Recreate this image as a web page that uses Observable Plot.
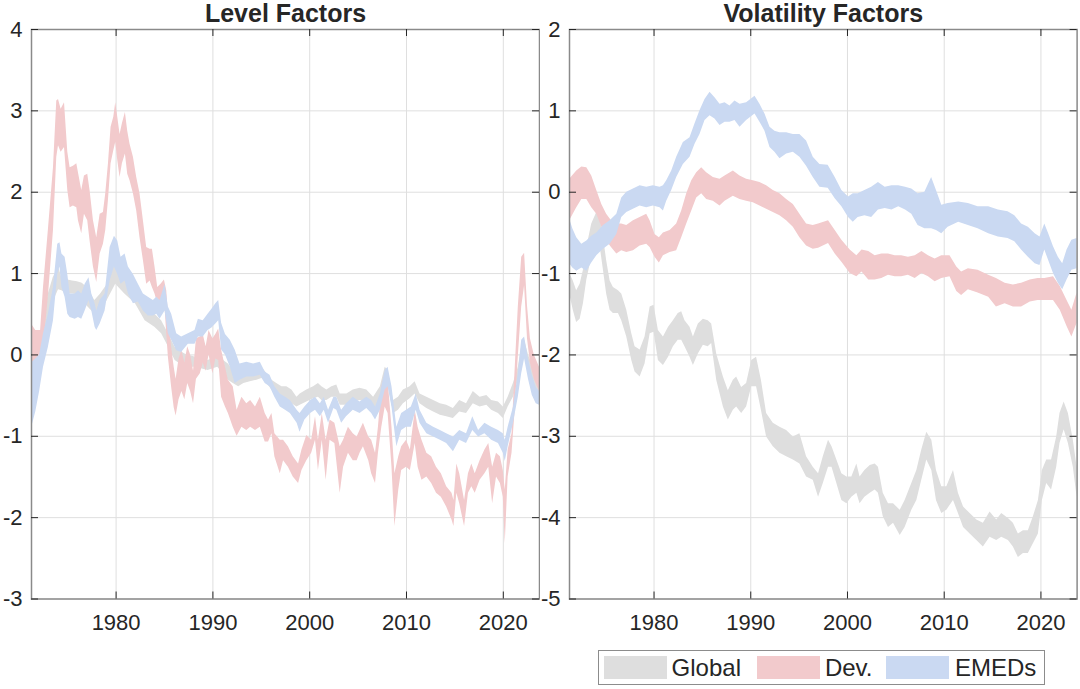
<!DOCTYPE html>
<html><head><meta charset="utf-8">
<script src="https://cdn.jsdelivr.net/npm/d3@7"></script>
<script src="https://cdn.jsdelivr.net/npm/@observablehq/plot@0.6"></script>
<style>
html,body{margin:0;padding:0;background:#fff;}
#chart{position:relative;width:1080px;height:689px;font-family:"Liberation Sans",Arial,Helvetica,sans-serif;}
.panel{position:absolute;top:0;}
#legend{position:absolute;left:598px;top:650px;width:447px;height:35px;border:1.5px solid #8c8c8c;box-sizing:border-box;background:#fff;}
.sw{position:absolute;top:4.5px;width:63px;height:23px;}
.lt{position:absolute;top:1px;line-height:32px;font-size:24px;color:#262626;white-space:nowrap;}
</style></head><body><div id="chart"></div><script>
// ---- data: [year, lower, upper] ----
const seriesNames = ["Global", "Dev.", "EMEDs"];
const seriesColors = ["#dedede", "#f2cacc", "#cad9f2"];
const xTicks = [1980, 1990, 2000, 2010, 2020];
const xDomain = [1971.26, 2023.74];
const levelTicks = [-3, -2, -1, 0, 1, 2, 3, 4];
const volTicks = [-5, -4, -3, -2, -1, 0, 1, 2];

const levelGlobal = [
[1971.26,-0.50,-0.10],[1971.8,-0.30,0.05],[1972.4,0.05,0.35],[1973.0,0.45,0.75],[1973.5,0.65,0.95],
[1974.05,0.80,1.08],[1974.4,0.79,0.95],[1975.0,0.75,0.92],[1975.5,0.75,0.91],[1976.0,0.74,0.90],
[1976.5,0.70,0.88],[1977.0,0.60,0.83],[1977.8,0.50,0.67],[1978.4,0.55,0.75],[1979.0,0.65,0.85],
[1979.96,0.87,1.14],[1980.9,0.75,0.95],[1982.0,0.63,0.79],[1983.0,0.42,0.58],[1984.0,0.34,0.50],
[1984.7,0.26,0.42],[1985.4,0.10,0.26],[1986.1,-0.07,0.09],[1987.1,-0.15,0.01],[1988.2,-0.15,-0.03],
[1989.5,-0.19,-0.07],[1990.5,-0.15,-0.02],[1991.1,-0.23,-0.07],[1991.6,-0.31,-0.11],[1992.1,-0.35,-0.19],
[1992.66,-0.39,-0.27],[1993.2,-0.35,-0.23],[1993.86,-0.33,-0.23],[1994.55,-0.31,-0.19],[1995.06,-0.29,-0.15],
[1995.58,-0.35,-0.23],[1996.1,-0.43,-0.31],[1996.6,-0.50,-0.35],[1997.13,-0.54,-0.39],[1997.64,-0.56,-0.39],
[1998.16,-0.60,-0.43],[1998.68,-0.64,-0.52],[1999.02,-0.62,-0.48],[1999.7,-0.58,-0.43],[2000.4,-0.54,-0.39],
[2000.9,-0.52,-0.35],[2001.26,-0.56,-0.39],[2001.77,-0.56,-0.43],[2002.29,-0.52,-0.39],[2002.8,-0.52,-0.37],
[2003.15,-0.62,-0.48],[2003.84,-0.62,-0.48],[2004.5,-0.58,-0.43],[2005.2,-0.56,-0.41],[2005.9,-0.58,-0.43],
[2006.6,-0.68,-0.52],[2007.3,-0.56,-0.39],[2007.8,-0.35,-0.15],[2008.1,-0.35,-0.19],[2008.65,-0.72,-0.56],
[2009.17,-0.68,-0.52],[2009.68,-0.60,-0.43],[2010.37,-0.54,-0.39],[2010.89,-0.48,-0.33],[2011.4,-0.60,-0.48],
[2012.1,-0.66,-0.52],[2012.8,-0.70,-0.56],[2013.5,-0.74,-0.60],[2014.15,-0.76,-0.62],[2014.84,-0.78,-0.66],
[2015.5,-0.70,-0.56],[2016.2,-0.72,-0.60],[2016.9,-0.60,-0.45],[2017.6,-0.64,-0.52],[2018.3,-0.62,-0.50],
[2018.8,-0.68,-0.56],[2019.5,-0.72,-0.58],[2020.0,-0.78,-0.64],[2020.5,-0.64,-0.52],[2021.04,-0.52,-0.35],
[2021.55,-0.31,-0.15],[2021.9,-0.05,0.10],[2022.2,0.00,0.18],[2022.6,-0.20,0.00],[2023.1,-0.40,-0.15],
[2023.74,-0.50,-0.30]
];

const levelDev = [
[1971.26,-0.10,0.38],[1971.7,-0.12,0.30],[1972.2,-0.08,0.30],[1972.5,0.09,0.83],[1973.0,0.71,1.53],
[1973.53,1.53,2.30],[1973.87,2.43,3.12],[1974.05,2.57,3.14],[1974.32,2.49,3.02],[1974.67,2.55,3.10],
[1975.01,2.02,2.49],[1975.25,1.81,2.30],[1975.59,1.83,2.32],[1975.94,1.81,2.35],[1976.11,1.65,2.24],
[1976.45,1.49,2.02],[1976.73,1.73,2.20],[1977.07,1.65,2.22],[1977.31,1.40,2.02],[1977.66,1.08,1.65],
[1978.0,0.89,1.44],[1978.35,1.24,1.73],[1978.69,1.36,1.75],[1978.93,1.53,1.98],[1979.21,1.90,2.35],
[1979.48,2.35,2.80],[1979.76,2.51,2.92],[1979.96,2.61,3.10],[1980.17,2.39,2.92],[1980.41,2.18,2.71],
[1980.65,2.35,2.84],[1980.96,2.47,2.98],[1981.2,2.22,2.75],[1981.44,2.14,2.59],[1981.79,1.98,2.43],
[1982.13,1.77,2.18],[1982.47,1.44,1.98],[1982.82,1.16,1.65],[1983.16,0.87,1.32],[1983.51,0.91,1.30],
[1983.75,0.83,1.30],[1984.02,0.75,1.08],[1984.3,0.63,0.83],[1984.64,0.67,0.87],[1984.99,0.71,0.92],
[1985.23,0.26,0.79],[1985.4,-0.03,0.50],[1985.74,-0.40,0.09],[1986.0,-0.65,-0.15],[1986.2,-0.75,-0.30],
[1986.5,-0.55,-0.05],[1986.8,-0.45,0.05],[1987.1,-0.55,-0.10],[1987.4,-0.35,0.10],[1987.7,-0.45,0.00],
[1988.0,-0.60,-0.20],[1988.3,-0.30,0.20],[1988.7,-0.23,0.22],[1989.0,-0.10,0.25],[1989.3,-0.20,0.10],
[1989.6,0.00,0.30],[1990.0,-0.23,0.20],[1990.3,-0.05,0.25],[1990.6,-0.07,0.32],[1990.9,-0.52,0.06],
[1991.3,-0.64,-0.15],[1991.6,-0.72,-0.31],[1992.1,-0.89,-0.39],[1992.5,-1.00,-0.68],[1993.0,-0.89,-0.52],
[1993.5,-0.93,-0.60],[1993.9,-0.89,-0.56],[1994.4,-0.93,-0.64],[1994.9,-0.89,-0.52],[1995.4,-1.07,-0.72],
[1995.75,-1.07,-0.80],[1996.1,-0.97,-0.72],[1996.4,-1.25,-0.97],[1996.96,-1.46,-1.05],[1997.3,-1.30,-1.05],
[1997.8,-1.38,-1.13],[1998.3,-1.50,-1.25],[1998.85,-1.58,-1.34],[1999.2,-1.42,-1.17],[1999.7,-1.30,-0.99],
[2000.2,-1.21,-1.05],[2000.6,-1.05,-0.76],[2000.9,-1.42,-1.05],[2001.3,-1.05,-0.72],[2001.7,-1.54,-1.05],
[2002.1,-1.05,-0.80],[2002.6,-1.09,-0.84],[2003.15,-1.70,-1.13],[2003.5,-1.38,-1.05],[2004.0,-1.21,-0.89],
[2004.5,-1.30,-0.97],[2004.9,-1.30,-1.01],[2005.2,-1.21,-0.93],[2005.55,-1.13,-0.84],[2006.1,-1.30,-1.01],
[2006.4,-1.46,-1.05],[2006.8,-1.58,-1.21],[2007.1,-1.21,-0.89],[2007.45,-0.89,-0.39],[2007.8,-0.64,-0.23],
[2008.1,-0.72,-0.31],[2008.5,-1.38,-0.89],[2008.8,-2.11,-1.46],[2009.2,-1.66,-1.25],[2009.5,-1.42,-1.13],
[2010.0,-1.38,-1.05],[2010.4,-1.42,-1.17],[2010.9,-1.09,-0.68],[2011.2,-1.38,-0.89],[2011.6,-1.54,-1.05],
[2012.1,-1.50,-1.21],[2012.6,-1.58,-1.25],[2013.1,-1.70,-1.38],[2013.6,-1.75,-1.46],[2014.15,-1.87,-1.62],
[2014.7,-2.03,-1.70],[2014.9,-2.11,-1.79],[2015.2,-1.70,-1.34],[2015.5,-1.83,-1.46],[2016.0,-2.11,-1.79],
[2016.4,-1.70,-1.46],[2016.75,-1.62,-1.34],[2017.1,-1.70,-1.46],[2017.6,-1.54,-1.30],[2018.1,-1.46,-1.17],
[2018.5,-1.38,-1.09],[2018.9,-1.83,-1.38],[2019.3,-1.50,-1.21],[2019.7,-1.58,-1.25],[2020.0,-1.75,-1.42],
[2020.2,-2.32,-1.66],[2020.5,-1.50,-1.17],[2020.9,-1.21,-0.97],[2021.2,-0.72,-0.23],[2021.55,-0.02,0.59],
[2021.9,0.59,1.20],[2022.2,0.85,1.25],[2022.5,0.20,0.60],[2022.8,-0.10,0.20],[2023.2,-0.30,0.00],
[2023.74,-0.45,-0.15]
];

const levelEMED = [
[1971.26,-0.90,-0.10],[1971.7,-0.70,-0.05],[1972.1,-0.45,0.00],[1972.5,-0.15,0.26],[1973.0,0.09,0.50],
[1973.53,0.42,0.83],[1973.97,0.99,1.36],[1974.2,1.08,1.38],[1974.4,0.83,1.24],[1974.73,0.71,1.20],
[1975.01,0.50,0.99],[1975.25,0.46,0.75],[1975.77,0.44,0.75],[1976.11,0.46,0.79],[1976.45,0.44,0.75],
[1976.8,0.54,0.87],[1977.2,0.67,0.95],[1977.49,0.54,0.75],[1977.83,0.34,0.63],[1978.0,0.30,0.54],
[1978.35,0.38,0.67],[1978.86,0.54,0.75],[1979.38,0.91,1.32],[1979.83,1.08,1.46],[1980.17,0.99,1.40],
[1980.51,0.87,1.20],[1980.93,0.91,1.24],[1981.27,0.75,1.08],[1981.79,0.63,0.99],[1982.3,0.65,0.87],
[1982.82,0.54,0.75],[1983.33,0.48,0.71],[1983.85,0.48,0.67],[1984.2,0.50,0.71],[1984.54,0.44,0.67],
[1985.06,0.54,0.87],[1985.4,0.26,0.59],[1985.74,0.18,0.50],[1986.26,0.05,0.26],[1986.77,0.03,0.22],
[1987.46,0.13,0.26],[1988.15,0.13,0.30],[1988.5,0.22,0.44],[1989.0,0.22,0.42],[1989.5,0.30,0.50],
[1989.9,0.33,0.56],[1990.3,0.38,0.63],[1990.6,0.42,0.67],[1990.9,0.06,0.39],[1991.3,0.00,0.25],
[1991.8,-0.15,0.18],[1992.3,-0.35,0.06],[1992.8,-0.31,-0.11],[1993.5,-0.27,-0.09],[1994.2,-0.27,-0.11],
[1994.9,-0.25,-0.09],[1995.4,-0.35,-0.21],[1995.9,-0.39,-0.25],[1996.4,-0.52,-0.39],[1996.96,-0.64,-0.48],
[1997.5,-0.68,-0.52],[1998.0,-0.72,-0.56],[1998.7,-0.84,-0.68],[1999.0,-0.95,-0.72],[1999.5,-0.80,-0.64],
[2000.1,-0.72,-0.56],[2000.6,-0.68,-0.52],[2001.1,-0.76,-0.60],[2001.5,-0.68,-0.52],[2001.95,-0.84,-0.68],
[2002.5,-0.66,-0.52],[2002.8,-0.68,-0.52],[2003.3,-0.84,-0.68],[2003.8,-0.76,-0.60],[2004.5,-0.68,-0.52],
[2005.2,-0.72,-0.58],[2005.9,-0.66,-0.52],[2006.4,-0.72,-0.56],[2006.8,-0.80,-0.64],[2007.3,-0.68,-0.48],
[2007.8,-0.43,-0.19],[2008.1,-0.39,-0.15],[2008.5,-0.64,-0.39],[2009.0,-1.13,-0.89],[2009.5,-0.93,-0.72],
[2010.0,-0.89,-0.68],[2010.5,-0.89,-0.64],[2011.0,-0.68,-0.48],[2011.4,-0.84,-0.68],[2012.1,-0.97,-0.84],
[2012.8,-1.01,-0.89],[2013.5,-1.05,-0.93],[2014.15,-1.09,-0.97],[2014.85,-1.19,-1.01],[2015.5,-1.05,-0.93],
[2016.2,-1.09,-0.97],[2016.85,-0.93,-0.76],[2017.45,-1.01,-0.93],[2018.1,-0.97,-0.84],[2018.8,-1.05,-0.89],
[2019.5,-1.09,-0.93],[2020.0,-1.21,-0.97],[2020.2,-1.31,-1.05],[2020.5,-1.13,-0.89],[2021.05,-0.84,-0.64],
[2021.55,-0.52,-0.23],[2021.9,-0.23,0.18],[2022.2,-0.05,0.22],[2022.6,-0.30,-0.05],[2023.0,-0.50,-0.25],
[2023.4,-0.60,-0.40],[2023.74,-0.62,-0.45]
];

const volGlobal = [
[1971.28,-1.25,-1.00],[1971.65,-1.45,-1.09],[1972.0,-1.60,-1.21],[1972.36,-1.56,-1.13],[1972.7,-1.37,-0.96],
[1973.05,-1.08,-0.68],[1973.56,-0.80,-0.39],[1974.08,-0.51,-0.25],[1974.42,-0.66,-0.31],[1974.77,-0.96,-0.55],
[1975.1,-1.25,-0.84],[1975.46,-1.45,-1.09],[1975.8,-1.49,-1.17],[1976.32,-1.49,-1.21],[1976.66,-1.58,-1.25],
[1977.18,-1.78,-1.45],[1977.7,-2.07,-1.74],[1978.04,-2.21,-1.90],[1978.56,-2.27,-1.94],[1979.07,-2.11,-1.78],
[1979.6,-1.74,-1.41],[1980.0,-1.72,-1.39],[1980.45,-2.07,-1.70],[1980.97,-2.13,-1.78],[1981.5,-2.03,-1.66],
[1982.0,-1.90,-1.58],[1982.5,-1.82,-1.49],[1982.86,-1.82,-1.47],[1983.2,-1.90,-1.58],[1983.72,-2.03,-1.66],
[1984.07,-2.13,-1.78],[1984.58,-1.99,-1.62],[1985.1,-1.88,-1.56],[1985.6,-1.90,-1.58],[1985.96,-1.86,-1.62],
[1986.48,-2.31,-1.99],[1987.17,-2.64,-2.27],[1987.68,-2.80,-2.44],[1988.2,-2.68,-2.31],[1988.54,-2.64,-2.27],
[1989.06,-2.72,-2.40],[1989.57,-2.64,-2.35],[1990.1,-2.39,-2.07],[1990.6,-2.39,-2.03],[1991.1,-2.68,-2.31],
[1991.64,-3.01,-2.72],[1992.33,-3.13,-2.84],[1993.02,-3.21,-2.89],[1993.71,-3.25,-2.93],[1994.4,-3.29,-3.01],
[1995.08,-3.34,-2.97],[1995.77,-3.50,-3.25],[1996.46,-3.54,-3.38],[1997.01,-3.75,-3.46],[1997.5,-3.58,-3.25],
[1998.04,-3.38,-3.05],[1998.4,-3.38,-3.13],[1998.9,-3.58,-3.29],[1999.42,-3.79,-3.46],[1999.94,-3.83,-3.50],
[2000.45,-3.75,-3.50],[2000.97,-3.70,-3.34],[2001.3,-3.83,-3.50],[2001.8,-3.75,-3.42],[2002.35,-3.70,-3.36],
[2002.86,-3.66,-3.34],[2003.2,-3.70,-3.38],[2003.7,-3.99,-3.70],[2004.24,-4.12,-3.83],[2004.76,-4.07,-3.83],
[2005.45,-4.22,-3.91],[2005.96,-4.12,-3.79],[2006.65,-3.91,-3.58],[2007.17,-3.79,-3.42],[2007.68,-3.54,-3.17],
[2008.2,-3.29,-2.95],[2008.72,-3.42,-3.05],[2009.2,-3.79,-3.42],[2009.75,-3.95,-3.62],[2010.27,-3.91,-3.62],
[2010.96,-3.79,-3.42],[2011.47,-3.95,-3.70],[2012.0,-4.12,-3.87],[2012.68,-4.20,-3.95],[2013.37,-4.28,-4.03],
[2014.05,-4.36,-4.07],[2014.74,-4.24,-3.93],[2015.43,-4.28,-4.03],[2015.95,-4.24,-3.95],[2016.64,-4.28,-4.01],
[2017.15,-4.36,-4.07],[2017.67,-4.49,-4.20],[2018.19,-4.44,-4.16],[2018.7,-4.44,-4.16],[2019.22,-4.32,-3.99],
[2019.74,-4.20,-3.79],[2020.15,-3.79,-3.42],[2020.6,-3.58,-3.29],[2021.1,-3.66,-3.29],[2021.63,-3.38,-3.01],
[2021.97,-3.09,-2.72],[2022.4,-2.92,-2.58],[2022.84,-3.09,-2.72],[2023.35,-3.38,-3.05],[2023.74,-3.75,-3.38]
];

const volDev = [
[1971.28,-0.35,0.16],[1972.01,-0.19,0.26],[1972.53,-0.09,0.31],[1973.05,-0.09,0.30],[1973.56,-0.19,0.20],
[1974.08,-0.27,0.02],[1974.6,-0.43,-0.15],[1975.1,-0.60,-0.27],[1975.6,-0.68,-0.35],[1976.15,-0.76,-0.39],
[1976.66,-0.72,-0.39],[1977.18,-0.74,-0.41],[1977.87,-0.72,-0.35],[1978.56,-0.66,-0.31],[1979.24,-0.64,-0.27],
[1979.59,-0.68,-0.35],[1980.1,-0.80,-0.52],[1980.55,-0.87,-0.56],[1980.97,-0.78,-0.50],[1981.66,-0.74,-0.47],
[1982.34,-0.72,-0.39],[1982.86,-0.56,-0.23],[1983.38,-0.39,-0.02],[1983.9,-0.23,0.14],[1984.41,-0.07,0.24],
[1984.93,-0.02,0.30],[1985.44,-0.09,0.24],[1986.13,-0.11,0.18],[1986.82,-0.17,0.16],[1987.34,-0.11,0.20],
[1988.2,-0.05,0.26],[1988.89,-0.09,0.20],[1989.57,-0.11,0.16],[1990.26,-0.13,0.14],[1990.95,-0.17,0.12],
[1991.64,-0.21,0.08],[1992.33,-0.25,0.02],[1993.02,-0.29,-0.02],[1993.71,-0.35,-0.09],[1994.4,-0.43,-0.15],
[1995.08,-0.56,-0.27],[1995.77,-0.66,-0.39],[1996.46,-0.70,-0.41],[1997.01,-0.69,-0.39],[1998.04,-0.63,-0.35],
[1998.73,-0.76,-0.47],[1999.42,-0.86,-0.59],[2000.28,-1.00,-0.71],[2000.97,-1.04,-0.78],[2001.5,-0.98,-0.71],
[2002.2,-1.08,-0.73],[2002.86,-1.08,-0.78],[2003.55,-1.06,-0.76],[2004.24,-1.02,-0.76],[2004.93,-1.04,-0.78],
[2005.6,-1.04,-0.78],[2006.3,-1.02,-0.80],[2007.0,-1.06,-0.78],[2007.7,-1.00,-0.73],[2008.37,-1.04,-0.78],
[2009.06,-1.10,-0.82],[2009.75,-1.06,-0.78],[2010.6,-1.04,-0.78],[2011.3,-1.22,-0.92],[2011.8,-1.27,-0.98],
[2012.5,-1.20,-0.94],[2013.5,-1.24,-0.96],[2014.6,-1.29,-1.02],[2015.4,-1.41,-1.06],[2016.3,-1.37,-1.12],
[2017.15,-1.41,-1.14],[2018.0,-1.41,-1.12],[2018.9,-1.35,-1.08],[2019.7,-1.33,-1.06],[2020.4,-1.33,-1.06],
[2021.3,-1.33,-1.04],[2022.0,-1.45,-1.16],[2022.7,-1.65,-1.33],[2023.2,-1.78,-1.45],[2023.74,-1.61,-1.24]
];

const volEMED = [
[1971.28,-0.88,-0.33],[1971.6,-0.93,-0.45],[1972.01,-0.97,-0.56],[1972.53,-0.93,-0.64],[1973.05,-0.97,-0.60],
[1973.56,-0.87,-0.54],[1974.08,-0.78,-0.50],[1974.77,-0.70,-0.41],[1975.46,-0.64,-0.35],[1976.15,-0.52,-0.27],
[1976.66,-0.31,-0.07],[1977.18,-0.25,0.00],[1977.87,-0.21,0.04],[1978.56,-0.17,0.08],[1979.24,-0.19,0.06],
[1979.93,-0.17,0.08],[1980.62,-0.19,0.06],[1980.97,-0.23,0.08],[1981.31,-0.11,0.14],[1981.83,0.02,0.26],
[1982.34,0.18,0.43],[1983.03,0.34,0.61],[1983.72,0.43,0.67],[1984.24,0.59,0.84],[1984.75,0.71,1.00],
[1985.27,0.88,1.14],[1985.79,0.94,1.23],[1986.3,0.90,1.16],[1986.82,0.82,1.08],[1987.34,0.86,1.10],
[1987.85,0.86,1.06],[1988.37,0.88,1.12],[1988.89,0.80,1.08],[1989.57,0.88,1.10],[1990.44,0.96,1.18],
[1990.95,0.86,1.08],[1991.47,0.75,0.96],[1991.99,0.55,0.80],[1992.5,0.49,0.75],[1993.02,0.41,0.73],
[1993.71,0.47,0.73],[1994.4,0.49,0.71],[1995.08,0.43,0.71],[1995.77,0.32,0.63],[1996.46,0.18,0.43],
[1997.15,0.06,0.34],[1998.0,0.05,0.33],[1998.73,-0.08,0.18],[1999.42,-0.18,0.02],[2000.11,-0.31,-0.06],
[2000.6,-0.37,-0.02],[2001.1,-0.31,-0.02],[2001.8,-0.29,0.02],[2002.5,-0.31,0.06],[2003.2,-0.22,0.12],
[2003.9,-0.20,0.06],[2004.6,-0.22,0.08],[2005.3,-0.18,0.08],[2006.0,-0.22,0.06],[2006.65,-0.27,0.04],
[2007.3,-0.41,-0.02],[2008.0,-0.45,0.00],[2008.7,-0.45,0.18],[2009.2,-0.47,0.02],[2009.75,-0.51,-0.16],
[2010.4,-0.43,-0.14],[2011.5,-0.37,-0.12],[2012.5,-0.41,-0.14],[2013.5,-0.45,-0.18],[2014.6,-0.51,-0.18],
[2015.6,-0.55,-0.22],[2016.6,-0.57,-0.24],[2017.3,-0.61,-0.29],[2018.0,-0.71,-0.39],[2018.7,-0.80,-0.43],
[2019.4,-0.88,-0.51],[2019.9,-0.90,-0.55],[2020.4,-0.71,-0.39],[2020.8,-0.84,-0.51],[2021.3,-1.00,-0.67],
[2021.8,-1.12,-0.80],[2022.25,-1.20,-0.88],[2022.7,-1.08,-0.71],[2023.2,-0.96,-0.59],[2023.74,-0.94,-0.57]
];

// ---- drawing ----
const FONT = '"Liberation Sans", Arial, Helvetica, sans-serif';
const INK = "#262626";

function panel(title, yTicks, bands, mLeft, mRight) {
  const yDomain = [yTicks[0], yTicks[yTicks.length - 1]];
  const [x0, x1] = xDomain, [y0, y1] = yDomain;
  const marks = [
    Plot.gridX(xTicks, {stroke: "#dfdfdf", strokeOpacity: 1, strokeWidth: 1}),
    Plot.gridY(yTicks, {stroke: "#dfdfdf", strokeOpacity: 1, strokeWidth: 1})
  ];
  bands.forEach((b, i) => {
    marks.push(Plot.areaY(b, {x: d => d[0], y1: d => d[1], y2: d => d[2], fill: seriesColors[i], curve: "linear"}));
  });
  marks.push(
    Plot.frame({stroke: "#8a8a8a", strokeWidth: 1.5}),
    // inward tick marks on all four sides
    Plot.ruleX(xTicks, {x: d => d, y1: y0, y2: y0, insetTop: -7, stroke: INK, strokeWidth: 1}),
    Plot.ruleX(xTicks, {x: d => d, y1: y1, y2: y1, insetBottom: -7, stroke: INK, strokeWidth: 1}),
    Plot.ruleY(yTicks, {y: d => d, x1: x0, x2: x0, insetRight: -7, stroke: INK, strokeWidth: 1}),
    Plot.ruleY(yTicks, {y: d => d, x1: x1, x2: x1, insetLeft: -7, stroke: INK, strokeWidth: 1}),
    Plot.axisX(xTicks, {tickSize: 0, tickPadding: 15, tickFormat: d => String(d), fontSize: 22, fill: INK, label: null}),
    Plot.axisY(yTicks, {tickSize: 0, tickPadding: 9, tickFormat: d => String(d), fontSize: 22, fill: INK, label: null}),
    Plot.text([title], {text: d => d, frameAnchor: "top", lineAnchor: "bottom", dy: -8, fontSize: 25, fontWeight: "bold", fill: INK})
  );
  return Plot.plot({
    width: 540, height: 640,
    marginTop: 29, marginBottom: 41.5, marginLeft: mLeft, marginRight: mRight,
    x: {domain: xDomain, type: "linear"},
    y: {domain: yDomain, type: "linear"},
    style: {fontFamily: FONT, fontSize: "22px", color: INK, background: "white", overflow: "visible"},
    marks
  });
}

const chart = document.getElementById("chart");
const left = panel("Level Factors", levelTicks, [levelGlobal, levelDev, levelEMED], 31, 1);
left.classList.add("panel"); left.style.left = "0px";
const right = panel("Volatility Factors", volTicks, [volGlobal, volDev, volEMED], 29, 3.4);
right.classList.add("panel"); right.style.left = "540px";
chart.appendChild(left); chart.appendChild(right);

// legend
const legend = document.createElement("div");
legend.id = "legend";
const swLeft = [4.7, 157.7, 287.2], txLeft = [72.6, 225.9, 356];
seriesNames.forEach((name, i) => {
  const sw = document.createElement("div");
  sw.className = "sw"; sw.style.left = swLeft[i] + "px"; sw.style.background = seriesColors[i];
  const tx = document.createElement("div");
  tx.className = "lt"; tx.style.left = txLeft[i] + "px"; tx.textContent = name;
  legend.appendChild(sw); legend.appendChild(tx);
});
chart.appendChild(legend);
</script></body></html>
